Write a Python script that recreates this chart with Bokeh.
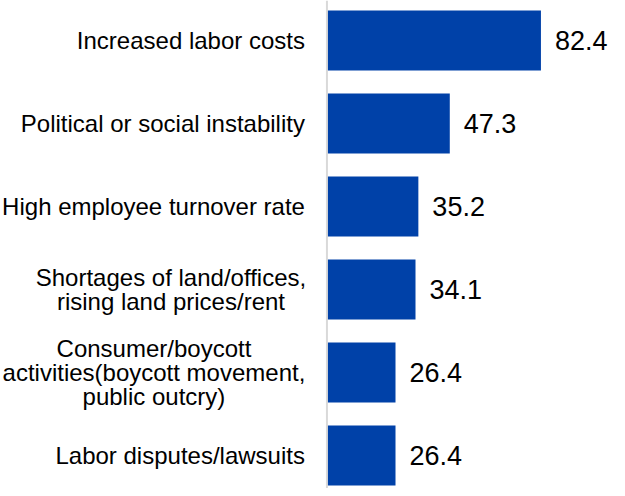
from bokeh.plotting import figure
from bokeh.models import ColumnDataSource, Range1d, Span
from bokeh.core.properties import value
from bokeh.embed import file_html
from bokeh.resources import INLINE

# ---- data ----
categories = [
    "Increased labor costs",
    "Political or social instability",
    "High employee turnover rate",
    "Shortages of land/offices,\nrising land prices/rent",
    "Consumer/boycott\nactivities(boycott movement,\npublic outcry)",
    "Labor disputes/lawsuits",
]
values = [82.4, 47.3, 35.2, 34.1, 26.4, 26.4]
value_labels = ["82.4", "47.3", "35.2", "34.1", "26.4", "26.4"]

# ---- layout / style ----
FONT = "Liberation Sans"
BAR_COLOR = "#0041A8"
rows = list(range(len(categories)))

# label placement (screen pixel offsets from the zero line)
label_align = ["right", "right", "right", "center", "center", "right"]
label_xoff = [-22, -22, -22, -156, -173, -22]

src = ColumnDataSource(dict(
    y=rows, v=values, vl=value_labels, cat=categories,
    align=label_align, xoff=label_xoff, zero=[0] * len(rows),
))

p = figure(width=609, height=488, output_backend="svg", toolbar_location=None,
           x_range=Range1d(-125.7, 108.8), y_range=Range1d(5.398, -0.482),
           min_border=0, outline_line_color=None)
p.axis.visible = False
p.grid.visible = False
p.background_fill_color = "white"
p.border_fill_color = "white"

p.hbar(y="y", left=0, right="v", height=0.723, source=src,
       fill_color=BAR_COLOR, line_color=None)

p.add_layout(Span(location=0, dimension="height", line_color="#d9d9d9", line_width=2))

p.text(x="v", y="y", text="vl", source=src, x_offset=14,
       text_font=value(FONT), text_font_size="27px", text_color="#000000",
       text_align="left", text_baseline="middle")

p.text(x="zero", y="y", text="cat", source=src, x_offset="xoff",
       text_font=value(FONT), text_font_size="24px", text_color="#000000",
       text_align="align", text_baseline="middle", text_line_height=0.9)

open("out.html", "w").write(file_html(p, INLINE))
